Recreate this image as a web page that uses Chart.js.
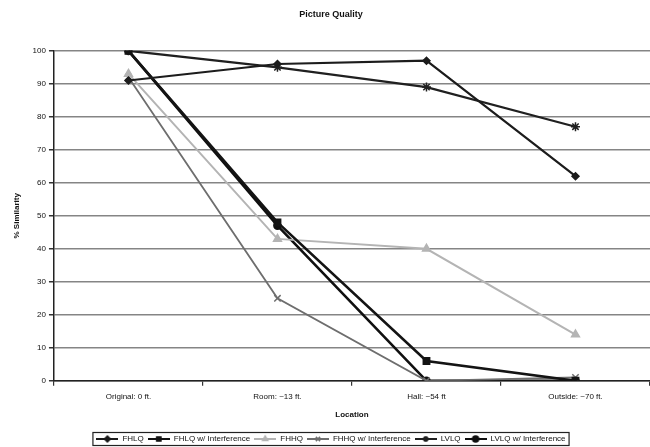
<!DOCTYPE html>
<html>
<head>
<meta charset="utf-8">
<script src="https://cdn.jsdelivr.net/npm/chart.js@4.4.1/dist/chart.umd.min.js"></script>
<style>
  html, body { margin: 0; padding: 0; background: #fff; }
  #wrap { width: 650px; height: 447px; }
</style>
</head>
<body>
<div id="wrap"><canvas id="c" width="650" height="447"></canvas></div>
<script>
// Locations where picture quality was measured
const locations = ['Original: 0 ft.', 'Room: ~13 ft.', 'Hall: ~54 ft', 'Outside: ~70 ft.'];

// % similarity per configuration
const fhlq            = [91, 96, 97, 62];
const fhlqInterf      = [100, 48, 6, 0];
const fhhq            = [93, 43, 40, 14];
const fhhqInterf      = [92, 25, 0, 1];
const lvlq            = [100, 95, 89, 77];
const lvlqInterf      = [100, 47, 0, 0];

const yTicks = [0, 10, 20, 30, 40, 50, 60, 70, 80, 90, 100];

const FONT = "'Liberation Sans', Arial, sans-serif";

const seriesDefs = [
  { label: 'FHLQ',                  data: fhlq,       color: '#1c1c1c', width: 2.2, marker: 'rectRot',  r: 3.5 },
  { label: 'FHLQ w/ Interference',  data: fhlqInterf, color: '#141414', width: 2.6, marker: 'rect',     r: 4.5 },
  { label: 'FHHQ',                  data: fhhq,       color: '#b4b4b4', width: 2.0, marker: 'triangle', r: 4.5 },
  { label: 'FHHQ w/ Interference',  data: fhhqInterf, color: '#6e6e6e', width: 1.8, marker: 'crossRot', r: 4.5 },
  { label: 'LVLQ',                  data: lvlq,       color: '#202020', width: 2.2, marker: 'star',     r: 4.5 },
  { label: 'LVLQ w/ Interference',  data: lvlqInterf, color: '#101010', width: 2.6, marker: 'circle',   r: 3.5 }
];

// Small legend swatch: a line segment with the series marker in the middle
function legendSwatch(def) {
  const w = 22, h = 10;
  const cv = document.createElement('canvas');
  cv.width = w; cv.height = h;
  const ctx = cv.getContext('2d');
  ctx.strokeStyle = def.color;
  ctx.lineWidth = 2;
  ctx.beginPath();
  ctx.moveTo(0, h / 2);
  ctx.lineTo(w, h / 2);
  ctx.stroke();
  ctx.fillStyle = def.color;
  ctx.lineWidth = 1.5;
  Chart.helpers.drawPoint(ctx, { pointStyle: def.marker, radius: 3, borderWidth: 1.5, rotation: 0 }, w / 2, h / 2);
  return cv;
}

const datasets = seriesDefs.map(d => ({
  label: d.label,
  data: d.data,
  borderColor: d.color,
  backgroundColor: d.color,
  borderWidth: d.width,
  pointStyle: d.marker,
  pointRadius: d.r,
  pointBorderWidth: 1.5,
  pointBackgroundColor: d.color,
  pointBorderColor: d.color,
  tension: 0,
  fill: false
}));

// Draws a thin frame round the legend row
const legendFrame = {
  id: 'legendFrame',
  afterDraw(chart) {
    const lg = chart.legend;
    if (!lg || !lg.legendHitBoxes || !lg.legendHitBoxes.length) return;
    const boxes = lg.legendHitBoxes;
    let l = Infinity, r = -Infinity, t = Infinity, b = -Infinity;
    boxes.forEach(bx => {
      l = Math.min(l, bx.left); r = Math.max(r, bx.left + bx.width);
      t = Math.min(t, bx.top);  b = Math.max(b, bx.top + bx.height);
    });
    const ctx = chart.ctx;
    ctx.save();
    ctx.strokeStyle = '#222';
    ctx.lineWidth = 1.2;
    ctx.strokeRect(l - 3.5, t - 2.5, (r - l) + 7, (b - t) + 5);
    ctx.restore();
  }
};

new Chart(document.getElementById('c'), {
  type: 'line',
  data: { labels: locations, datasets },
  plugins: [legendFrame],
  options: {
    responsive: false,
    animation: false,
    devicePixelRatio: 1,
    layout: { autoPadding: false, padding: { left: 12, right: 0, top: 4, bottom: -6 } },
    plugins: {
      title: {
        display: true,
        text: 'Picture Quality',
        color: '#111',
        font: { family: FONT, size: 9, weight: 'bold' },
        padding: { top: 5, bottom: 31 }
      },
      legend: {
        position: 'bottom',
        labels: {
          color: '#111',
          font: { family: FONT, size: 8 },
          usePointStyle: true,
          pointStyleWidth: 22,
          padding: 4,
          generateLabels(chart) {
            return seriesDefs.map((d, i) => ({
              text: d.label,
              pointStyle: legendSwatch(d),
              fillStyle: d.color,
              strokeStyle: d.color,
              lineWidth: 0,
              hidden: false,
              datasetIndex: i,
              fontColor: '#111'
            }));
          }
        }
      },
      tooltip: { enabled: false }
    },
    scales: {
      x: {
        offset: true,
        grid: {
          offset: true,
          drawOnChartArea: false,
          drawTicks: true,
          tickLength: 5,
          color: '#333',
          lineWidth: 1.2
        },
        border: { display: true, color: '#222', width: 1.5 },
        ticks: {
          color: '#111',
          font: { family: FONT, size: 8 },
          padding: 6,
          maxRotation: 0,
          autoSkip: false
        },
        title: {
          display: true,
          text: 'Location',
          color: '#111',
          font: { family: FONT, size: 8, weight: 'bold' },
          padding: { top: 3, bottom: 11 }
        }
      },
      y: {
        min: 0,
        max: 100,
        afterBuildTicks(scale) { scale.ticks = yTicks.map(v => ({ value: v })); },
        grid: {
          color: '#858585',
          lineWidth: 1.5,
          drawTicks: true,
          tickLength: 5,
          tickColor: '#333'
        },
        border: { display: true, color: '#222', width: 1.5 },
        ticks: {
          color: '#111',
          font: { family: FONT, size: 8 },
          padding: 3
        },
        title: {
          display: true,
          text: '% Similarity',
          color: '#111',
          font: { family: FONT, size: 8, weight: 'bold' },
          padding: { top: 0, bottom: 8 }
        }
      }
    }
  }
});
</script>
</body>
</html>
